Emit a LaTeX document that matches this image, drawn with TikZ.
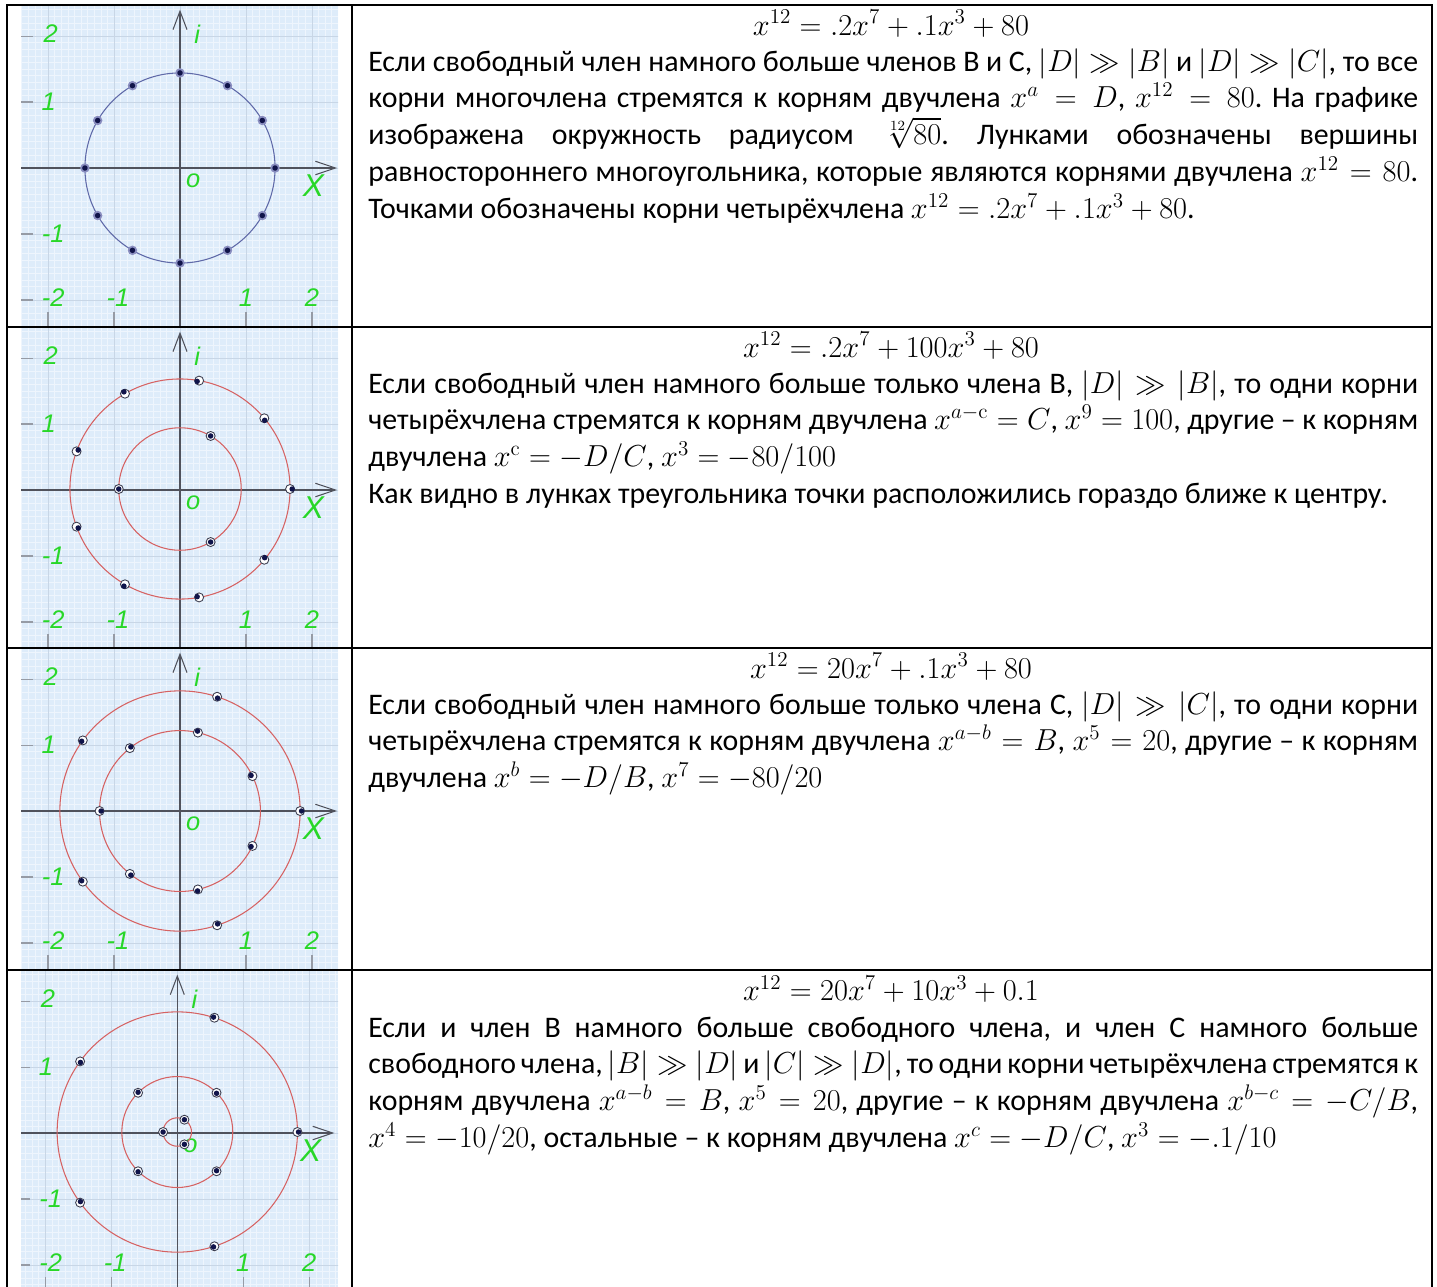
\documentclass[tikz,border=0pt]{standalone}
\usepackage[no-math]{fontspec}
\usepackage{amsmath}
\setmainfont{Carlito}
\newfontfamily\plotfont{Liberation Sans}
\usetikzlibrary{arrows.meta, positioning, calc}
\setlength{\parindent}{0pt}
\hyphenpenalty=10000
\exhyphenpenalty=10000
\frenchspacing
\newcommand{\celltext}{\fontsize{17}{21}\selectfont}

\definecolor{plotbg}{RGB}{222,236,250}
\definecolor{gridminor}{RGB}{238,245,253}
\definecolor{gridmajor}{RGB}{200,214,230}
\definecolor{axisgray}{RGB}{80,82,92}
\definecolor{tickgray}{RGB}{150,155,165}
\definecolor{lblgreen}{RGB}{40,215,40}
\definecolor{circblue}{RGB}{95,105,168}
\definecolor{circred}{RGB}{214,98,98}
\definecolor{halocol}{RGB}{138,142,192}
\definecolor{holegray}{RGB}{60,62,80}
\definecolor{rootnavy}{RGB}{16,20,74}

\begin{document}
\begin{tikzpicture}[
    x=0.02cm, y=-0.02cm,
    % --- STYLES ---
    tableline/.style={line width=0.055cm, black},
    formula/.style={anchor=base, inner sep=0pt, font=\celltext},
    para/.style={anchor=base west, inner sep=0pt, text width=21cm, align=justify, font=\celltext},
    minorgrid/.style={draw=gridminor, line width=0.35pt},
    majorgrid/.style={draw=gridmajor, line width=0.45pt},
    axis_line/.style={draw=axisgray, line width=0.6pt},
    tick_mark/.style={draw=tickgray, line width=0.6pt},
    plot_lbl/.style={text=lblgreen, inner sep=0pt, font=\plotfont\itshape\fontsize{14.5}{14.5}\selectfont},
    big_lbl/.style={plot_lbl, font=\plotfont\itshape\fontsize{18}{18}\selectfont},
    blue_circ/.style={draw=circblue, line width=0.6pt},
    red_circ/.style={draw=circred, line width=0.6pt},
    halo/.style={fill=halocol},
    hole/.style={fill=white, draw=holegray, line width=0.5pt},
    root/.style={fill=rootnavy}
]
\useasboundingbox (0,0) rectangle (1437,1286);

% --- 1. PLOT FRAMES (background, grid, axes, labels) ---
\foreach \ry/\cx [count=\k] in {5/180, 327/180, 648/180, 970/177.3} {
    \fill[plotbg] (21,\ry) rectangle (338,\ry+322);
    \begin{scope}
        \clip (21,\ry) rectangle (338,\ry+322);
        \begin{scope}[shift={(\cx,\ry+163)}, x=1.32cm, y=1.32cm]
            \draw[minorgrid] (-2.7,-2.7) grid[step=0.1] (2.7,2.7);
            \draw[majorgrid] (-3,-3) grid[step=1] (3,3);
            % axes
            \draw[axis_line, -{Straight Barb[length=0.4cm, width=0.27cm]}] (-2.6,0) -- (2.38,0);
            \draw[axis_line, -{Straight Barb[length=0.37cm, width=0.28cm]}] (0,-2.6) -- (0,2.40);
            % ticks
            \foreach \t in {-2,-1,1,2} {
                \draw[tick_mark] (\t,-2.18) -- (\t,-2.6);
                \draw[tick_mark] (-2.6,\t) -- (-2.23,\t);
            }
            % labels
            \node[plot_lbl] (ylabA\k) at (-1.96,2.03) {2};
            \node[plot_lbl] (ylabB\k) at (-1.99,1.0) {1};
            \node[plot_lbl] (ylabC\k) at (-1.92,-1.0) {-1};
            \node[plot_lbl] (corner\k) at (-1.92,-1.97) {-2};
            \node[plot_lbl] (xlabA\k) at (-0.94,-1.97) {-1};
            \node[plot_lbl] (xlabB\k) at (1.0,-1.97) {1};
            \node[plot_lbl] (xlabC\k) at (2.0,-1.97) {2};
            \node[plot_lbl] (imag\k) at (0.26,2.02) {i};
            \node[plot_lbl] (orig\k) at (0.2,-0.2) {o};
            \node[big_lbl] (real\k) at (2.02,-0.27) {X};
        \end{scope}
    \end{scope}
}

% --- 2. ROOTS ---
% A. x^12 = .2x^7 + .1x^3 + 80
\begin{scope}[shift={(180,168)}, x=1.32cm, y=1.32cm]
    \draw[blue_circ] (0,0) circle[radius=1.4408];
    \foreach \a in {0,30,...,330} {
        \fill[halo] (\a:1.4408) circle[radius=0.095cm];
        \fill[root] (\a:1.4408) circle[radius=0.055cm];
    }
\end{scope}

% B. x^12 = .2x^7 + 100x^3 + 80
\begin{scope}[shift={(180,489)}, x=1.32cm, y=1.32cm]
    \draw[red_circ] (0,0) circle[radius=1.668];
    \draw[red_circ] (0,0) circle[radius=0.928];
    \foreach \a in {0,40,...,320} {
        \draw[hole] (\a:1.668) circle[radius=0.09cm];
        \fill[root] ({\a-1.09*sin(3*\a)}:{1.668*(1+0.019*cos(3*\a))}) circle[radius=0.055cm];
    }
    \foreach \a in {60,180,300} {
        \draw[hole] (\a:0.928) circle[radius=0.09cm];
        \fill[root] (\a:0.928) circle[radius=0.055cm];
    }
\end{scope}

% C. x^12 = 20x^7 + .1x^3 + 80
\begin{scope}[shift={(180,811)}, x=1.32cm, y=1.32cm]
    \draw[red_circ] (0,0) circle[radius=1.8206];
    \draw[red_circ] (0,0) circle[radius=1.219];
    \foreach \a in {0,72,...,288} {
        \draw[hole] (\a:1.8206) circle[radius=0.09cm];
        \fill[root] ({\a-0.68*sin(7*\a)}:{1.8206*(1+0.0118*cos(7*\a))}) circle[radius=0.055cm];
    }
    \foreach \n [evaluate=\n as \a using (180+360*\n)/7] in {0,...,6} {
        \draw[hole] (\a:1.219) circle[radius=0.09cm];
        \fill[root] ({\a+1.1*sin(5*\a)}:{1.219*(1+0.0193*cos(5*\a))}) circle[radius=0.055cm];
    }
\end{scope}

% D. x^12 = 20x^7 + 10x^3 + 0.1
\begin{scope}[shift={(177.3,1132)}, x=1.32cm, y=1.32cm]
    \draw[red_circ] (0,0) circle[radius=1.8206];
    \draw[red_circ] (0,0) circle[radius=0.8409];
    \draw[red_circ] (0,0) circle[radius=0.2154];
    \foreach \a in {0,72,...,288} {
        \draw[hole] (\a:1.8206) circle[radius=0.09cm];
        \fill[root] ({\a-0.52*sin(4*\a)}:{1.8206*(1+0.0091*cos(4*\a))}) circle[radius=0.055cm];
    }
    \foreach \a in {45,135,225,315} {
        \draw[hole] (\a:0.8409) circle[radius=0.09cm];
        \fill[root] ({\a-0.54*sin(3*\a)}:{0.8409*(1+0.0095*cos(3*\a))}) circle[radius=0.055cm];
    }
    \foreach \a in {60,180,300} {
        \draw[hole] (\a:0.2154) circle[radius=0.09cm];
        \fill[root] (\a:0.2154) circle[radius=0.055cm];
    }
\end{scope}

% --- 3. TEXT CELLS ---
\node[formula] (f1) at (891,35) {$x^{12} = .2x^7 + .1x^3 + 80$};
\node[para] (t1) at (368,71) {Если свободный член намного больше членов В и С, $|D| \gg |B|$ и $|D| \gg |C|$, то все\linebreak
корни многочлена стремятся к корням двучлена $x^a = D$, $x^{12} = 80$. На графике\linebreak
изображена окружность радиусом $\sqrt[12]{80}$. Лунками обозначены вершины\linebreak
равностороннего многоугольника, которые являются корнями двучлена $x^{12} = 80$.\linebreak
Точками обозначены корни четырёхчлена $x^{12} = .2x^7 + .1x^3 + 80$.};

\node[formula] (f2) at (891,357) {$x^{12} = .2x^7 + 100x^3 + 80$};
\node[para] (t2) at (368,393) {Если свободный член намного больше только члена В, $|D| \gg |B|$, то одни корни\linebreak
четырёхчлена стремятся к корням двучлена $x^{a-\mathrm{c}} = C$, $x^9 = 100$, другие – к корням\linebreak
двучлена $x^{\mathrm{c}} = -D/C$, $x^3 = -80/100$\par
Как видно в лунках треугольника точки расположились гораздо ближе к центру.};

\node[formula] (f3) at (891,678) {$x^{12} = 20x^7 + .1x^3 + 80$};
\node[para] (t3) at (368,714) {Если свободный член намного больше только члена С, $|D| \gg |C|$, то одни корни\linebreak
четырёхчлена стремятся к корням двучлена $x^{a-b} = B$, $x^5 = 20$, другие – к корням\linebreak
двучлена $x^b = -D/B$, $x^7 = -80/20$};

\node[formula] (f4) at (891,1000) {$x^{12} = 20x^7 + 10x^3 + 0.1$};
\node[para] (t4) at (368,1037) {Если и член В намного больше свободного члена, и член С намного больше\linebreak
свободного члена, $|B| \gg |D|$ и $|C| \gg |D|$, то одни корни четырёхчлена стремятся к\linebreak
корням двучлена $x^{a-b} = B$, $x^5 = 20$, другие – к корням двучлена $x^{b-c} = -C/B$,\linebreak
$x^4 = -10/20$, остальные – к корням двучлена $x^c = -D/C$, $x^3 = -.1/10$};

% --- 4. TABLE RULES ---
\draw[tableline] (7,1290) -- (7,5) -- (1432,5) -- (1432,1290);
\draw[tableline] (352,5) -- (352,1290);
\foreach \ly in {327, 648, 970} {
    \draw[tableline] (7,\ly) -- (1432,\ly);
}

\end{tikzpicture}
\end{document}
